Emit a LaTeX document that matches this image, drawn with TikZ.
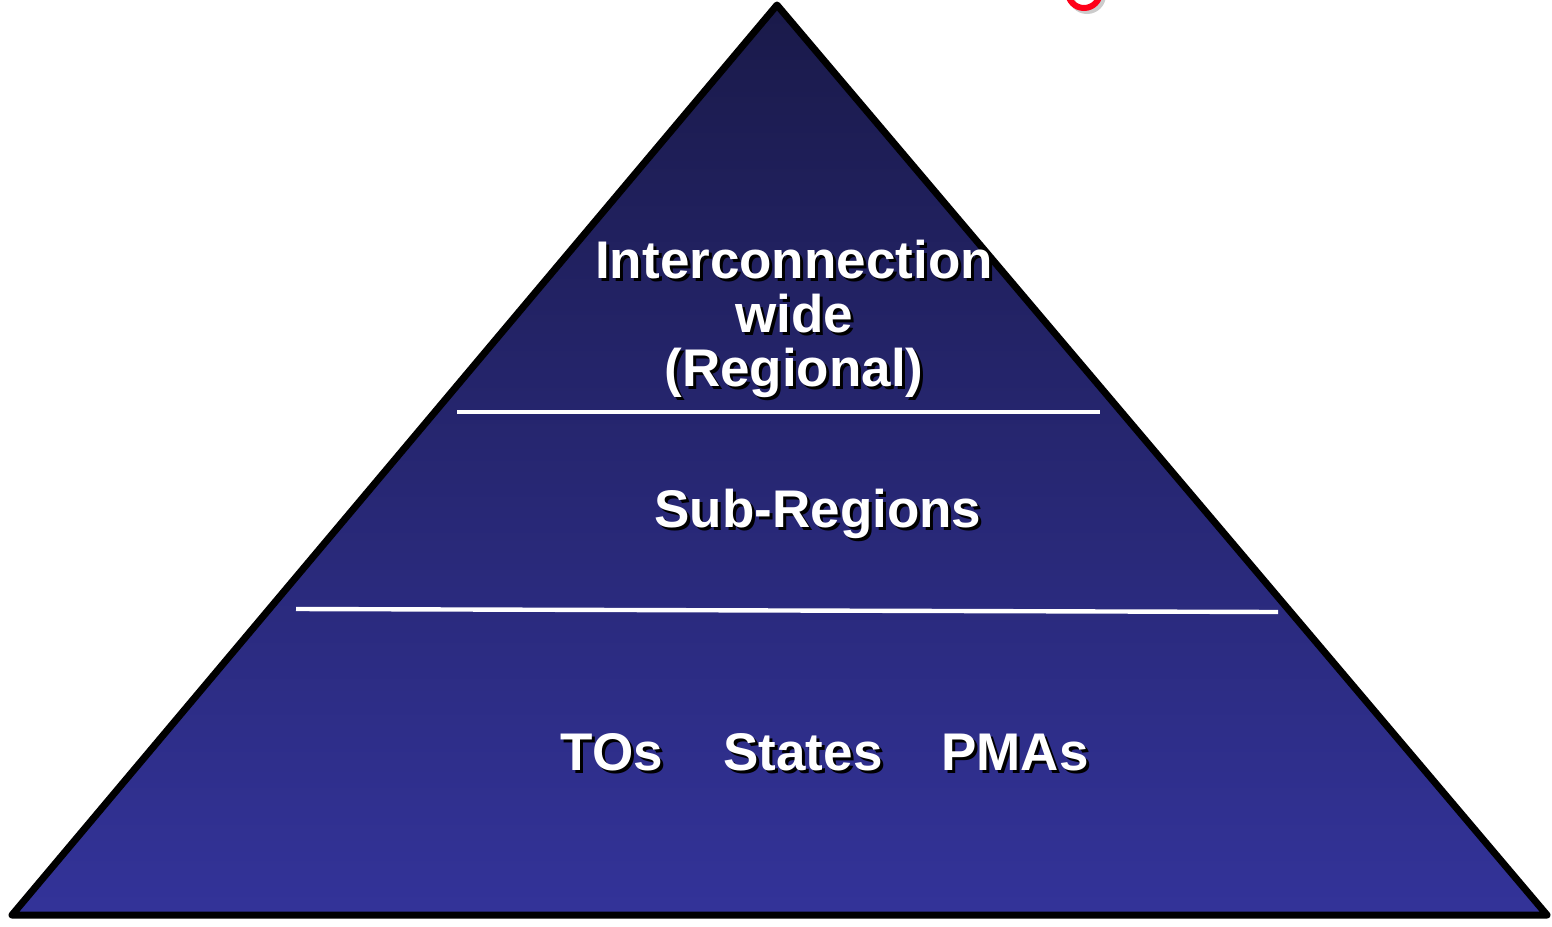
\documentclass[tikz,border=0pt]{standalone}
\usepackage{fontspec}
\setmainfont{Liberation Sans}
\usetikzlibrary{positioning}

\definecolor{navytop}{RGB}{26,26,74}
\definecolor{navybot}{RGB}{51,51,153}

% white label with a black drop shadow
\newcommand{\tiertext}[4][]{%
  \node[tier,black,#1] at ([shift={(3,3)}]#3) {#4};
  \node[tier,white,#1] (#2) at (#3) {#4};}

\begin{document}
\begin{tikzpicture}
[x=0.5pt,y=-0.5pt, tier/.style={font=\fontsize{26.5}{27}\selectfont\bfseries,inner sep=0pt,align=center},
 divider/.style={white,line width=2.2pt}]

\useasboundingbox (0,0) rectangle (1552,926);

% the coordinates of the vertices
\coordinate (T) at (777,5);
\coordinate (L) at (12,915);
\coordinate (R) at (1547,915);

% the ends of the dividers
\coordinate (D1l) at (457,412);
\coordinate (D1r) at (1100,412);
\coordinate (D2l) at (296,609);
\coordinate (D2r) at (1278,612);

% the pyramid
\shade[top color=navytop,bottom color=navybot] (T) -- (L) -- (R) -- cycle;
\draw[line width=3.5pt,line join=round] (T) -- (L) -- (R) -- cycle;

% the dividers
\draw[divider] (D1l) -- (D1r);
\draw[divider] (D2l) -- (D2r);

% the cut-off red mark at the top
\begin{scope}
\clip (0,0) rectangle (1552,926);
\draw[gray!40,line width=3pt] (1087,-5) circle (16);
\draw[red!90!magenta,line width=3pt] (1084,-8) circle (16);
\end{scope}

% labelling the tiers
\coordinate (p1) at (794,240);
\coordinate (p2) at (818,527);
\coordinate (p3) at (612,770);
\coordinate (p4) at (803,770);
\coordinate (p5) at (1015,770);
\tiertext[anchor=north]{top}{p1}{Interconnection\\wide\\(Regional)}
\tiertext[anchor=base]{mid}{p2}{Sub-Regions}
\tiertext[anchor=base]{tos}{p3}{TOs}
\tiertext[anchor=base]{states}{p4}{States}
\tiertext[anchor=base]{pmas}{p5}{PMAs}

%
\end{tikzpicture}
\end{document}
